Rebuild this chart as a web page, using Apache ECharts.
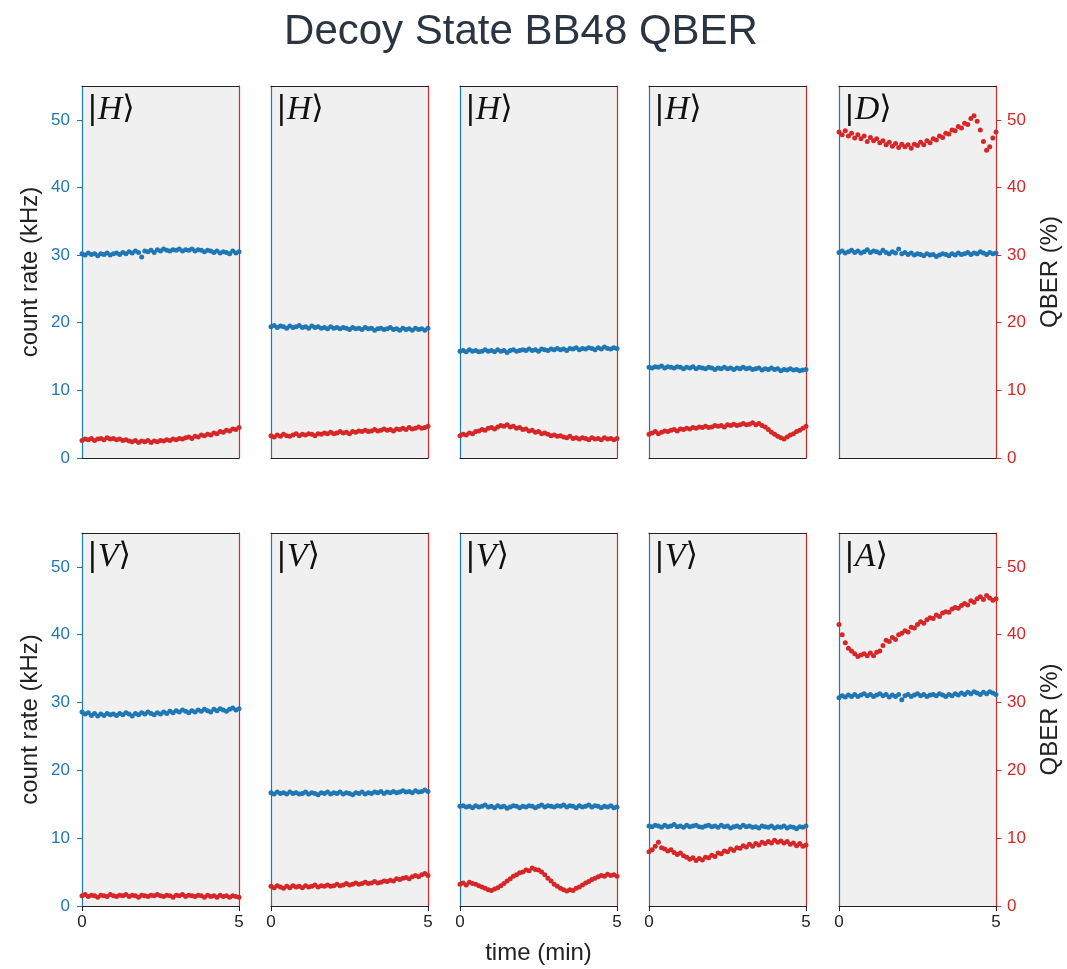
<!DOCTYPE html>
<html>
<head>
<meta charset="utf-8">
<script src="https://cdn.jsdelivr.net/npm/echarts@6/dist/echarts.min.js"></script>
<style>
html, body { margin: 0; padding: 0; background: #fff; }
#chart { width: 1067px; height: 969px; }
</style>
</head>
<body>
<div id="chart"></div>
<script>
// time axis (min), shared by every panel
const time = [0.0,0.1,0.2,0.3,0.4,0.5,0.6,0.7,0.8,0.9,
  1.0,1.1,1.2,1.3,1.4,1.5,1.6,1.7,1.8,1.9,
  2.0,2.1,2.2,2.3,2.4,2.5,2.6,2.7,2.8,2.9,
  3.0,3.1,3.2,3.3,3.4,3.5,3.6,3.7,3.8,3.9,
  4.0,4.1,4.2,4.3,4.4,4.5,4.6,4.7,4.8,4.9,5.0];

// count rate (kHz), top row
const rateH1 = [30.2,30.0,30.3,30.1,30.2,29.9,30.2,30.1,30.3,30.0,
  30.2,30.3,30.1,30.4,30.2,30.5,30.3,30.6,30.4,29.7,
  30.6,30.5,30.7,30.4,30.8,30.6,30.9,30.7,30.6,30.8,
  30.7,30.9,30.6,30.8,30.7,30.9,30.6,30.8,30.7,30.5,
  30.7,30.6,30.4,30.6,30.3,30.5,30.4,30.2,30.6,30.3,30.5];
const rateH2 = [19.4,19.6,19.3,19.5,19.4,19.2,19.5,19.3,19.4,19.6,
  19.3,19.4,19.2,19.5,19.3,19.4,19.2,19.3,19.1,19.4,
  19.2,19.3,19.1,19.3,19.2,19.0,19.3,19.1,19.2,19.0,
  19.3,19.1,19.2,18.9,19.1,19.2,19.0,19.1,19.3,19.0,
  19.1,18.9,19.2,19.0,19.1,18.9,19.2,19.0,19.1,18.9,19.2];
const rateH3 = [15.8,15.9,15.7,16.0,15.8,15.9,15.7,15.8,16.0,15.8,
  15.9,15.7,16.0,15.8,15.9,15.6,15.9,16.0,15.8,15.9,
  16.0,15.9,16.1,15.9,16.0,15.8,16.1,16.0,15.9,16.1,
  16.0,16.2,16.0,16.1,15.9,16.2,16.1,16.3,16.0,16.2,
  16.1,16.3,16.2,16.0,16.3,16.1,16.4,16.2,16.1,16.3,16.2];
const rateH4 = [13.4,13.3,13.5,13.4,13.6,13.3,13.5,13.4,13.3,13.5,
  13.4,13.2,13.4,13.3,13.5,13.2,13.4,13.3,13.2,13.4,
  13.3,13.1,13.3,13.2,13.4,13.2,13.3,13.1,13.3,13.2,
  13.4,13.2,13.3,13.1,13.2,13.3,13.0,13.2,13.1,13.3,
  13.1,13.2,12.9,13.1,13.0,13.2,13.0,13.1,12.9,13.0,13.1];
const rateD = [30.4,30.6,30.3,30.5,30.7,30.4,30.6,30.3,30.5,30.8,
  30.4,30.6,30.5,30.3,30.7,30.4,30.2,30.5,30.3,30.9,
  30.2,30.4,30.1,30.3,30.0,30.2,30.1,29.9,30.2,30.0,
  30.1,29.8,30.0,30.2,30.1,29.9,30.2,30.0,30.3,30.1,
  30.2,30.4,30.1,30.3,30.2,30.5,30.3,30.1,30.4,30.2,30.3];

// QBER (%), top row
const qberH1 = [2.6,2.8,2.7,2.9,2.6,2.8,2.9,2.7,3.0,2.8,
  2.9,2.7,2.8,2.6,2.7,2.5,2.4,2.6,2.3,2.5,
  2.4,2.6,2.3,2.5,2.4,2.6,2.5,2.7,2.6,2.8,
  2.7,2.9,2.8,3.0,3.1,2.9,3.2,3.1,3.4,3.3,
  3.5,3.4,3.7,3.6,3.9,3.8,4.1,4.0,4.3,4.2,4.5];
const qberH2 = [3.3,3.1,3.4,3.2,3.5,3.3,3.2,3.4,3.6,3.3,
  3.5,3.4,3.6,3.5,3.3,3.6,3.5,3.7,3.6,3.8,
  3.6,3.7,3.9,3.7,3.8,3.6,3.9,3.8,4.0,3.9,
  4.1,3.9,4.0,4.2,4.0,4.1,4.3,4.1,4.2,4.0,
  4.3,4.2,4.4,4.2,4.5,4.3,4.4,4.6,4.4,4.5,4.7];
const qberH3 = [3.3,3.5,3.4,3.7,3.6,3.9,4.0,4.2,4.1,4.4,
  4.5,4.3,4.6,4.8,4.7,4.9,4.6,4.7,4.4,4.5,
  4.2,4.3,4.0,4.1,3.8,3.9,3.6,3.7,3.5,3.3,
  3.4,3.2,3.3,3.1,3.0,3.2,2.9,3.0,2.8,3.0,
  2.9,2.7,3.0,2.8,2.9,2.7,3.0,2.8,2.9,2.7,2.9];
const qberH4 = [3.5,3.7,3.9,3.6,3.8,4.0,3.9,4.1,4.2,4.0,
  4.3,4.2,4.4,4.3,4.5,4.4,4.6,4.5,4.7,4.5,
  4.6,4.8,4.7,4.8,4.6,4.9,4.8,5.0,4.8,4.9,
  5.1,4.9,5.0,5.2,4.9,5.1,4.8,4.6,4.2,3.8,
  3.5,3.2,3.0,2.8,3.1,3.4,3.6,3.9,4.1,4.4,4.7];
const qberD = [48.2,47.8,48.4,47.6,48.0,47.3,47.8,47.2,47.6,46.8,
  47.4,46.9,47.2,46.6,46.9,46.3,46.7,46.1,46.5,45.9,
  46.4,46.0,46.3,45.8,46.4,46.2,46.7,46.3,46.9,46.6,
  47.2,47.0,47.6,47.4,48.0,47.9,48.5,48.4,49.0,48.8,
  49.5,49.3,50.2,50.6,49.8,48.5,46.8,45.5,46.0,47.3,48.2];

// count rate (kHz), bottom row
const rateV1 = [28.6,28.3,28.5,28.1,28.4,28.0,28.3,28.1,28.4,28.2,
  28.3,28.1,28.4,28.2,28.5,28.3,28.0,28.4,28.2,28.5,
  28.3,28.6,28.4,28.2,28.5,28.3,28.6,28.4,28.7,28.5,
  28.8,28.6,28.9,28.7,28.5,28.8,28.6,28.9,28.7,29.0,
  28.8,28.6,29.0,28.8,29.1,28.9,28.7,29.0,29.2,28.9,29.1];
const rateV2 = [16.7,16.5,16.8,16.6,16.7,16.5,16.8,16.6,16.7,16.5,
  16.6,16.8,16.5,16.7,16.6,16.4,16.7,16.6,16.8,16.5,
  16.7,16.6,16.8,16.5,16.7,16.6,16.4,16.7,16.6,16.8,
  16.5,16.7,16.6,16.8,16.7,16.9,16.6,16.8,16.7,16.9,
  16.7,16.8,17.0,16.8,16.9,16.7,17.0,16.8,16.9,17.1,16.9];
const rateV3 = [14.7,14.8,14.6,14.7,14.5,14.8,14.6,14.7,14.9,14.6,
  14.7,14.5,14.8,14.6,14.7,14.4,14.6,14.8,14.7,14.5,
  14.7,14.6,14.8,14.7,14.5,14.7,14.9,14.6,14.8,14.7,
  14.6,14.8,14.7,14.9,14.6,14.8,14.7,14.5,14.8,14.6,
  14.7,14.9,14.6,14.8,14.7,14.5,14.7,14.6,14.8,14.5,14.6];
const rateV4 = [11.8,11.7,11.9,11.8,11.6,11.9,11.7,11.8,12.0,11.7,
  11.8,11.6,11.9,11.7,11.8,11.9,11.7,11.6,11.8,11.9,
  11.7,11.8,11.6,11.9,11.7,11.8,11.5,11.7,11.8,11.6,
  11.9,11.7,11.8,11.6,11.7,11.5,11.8,11.7,11.6,11.8,
  11.5,11.7,11.6,11.8,11.5,11.7,11.6,11.4,11.7,11.6,11.8];
const rateA = [30.7,31.0,30.8,31.1,30.9,31.2,30.9,31.1,31.3,31.0,
  31.2,30.9,31.1,31.3,31.0,31.2,30.8,31.1,30.9,31.2,
  30.4,31.0,31.2,30.9,31.1,31.3,31.0,31.2,30.9,31.1,
  31.2,31.0,31.3,31.1,30.9,31.2,31.0,31.3,31.1,31.4,
  31.2,31.5,31.3,31.6,31.4,31.2,31.5,31.3,31.6,31.4,31.2];

// QBER (%), bottom row
const qberV1 = [1.5,1.7,1.4,1.6,1.5,1.3,1.6,1.5,1.4,1.7,
  1.5,1.4,1.6,1.5,1.7,1.4,1.6,1.5,1.3,1.6,
  1.5,1.4,1.6,1.5,1.7,1.5,1.4,1.6,1.5,1.3,
  1.6,1.5,1.7,1.4,1.6,1.5,1.4,1.6,1.5,1.3,
  1.6,1.4,1.5,1.3,1.6,1.4,1.5,1.3,1.5,1.4,1.3];
const qberV2 = [2.9,2.7,3.0,2.8,2.6,2.9,2.7,3.0,2.8,2.9,
  2.7,3.0,2.8,2.9,3.1,2.8,3.0,2.9,3.1,2.9,
  3.0,3.2,3.0,3.1,3.3,3.1,3.2,3.4,3.2,3.3,
  3.5,3.3,3.4,3.6,3.4,3.5,3.7,3.6,3.8,3.7,
  4.0,3.9,4.1,4.2,4.0,4.3,4.5,4.3,4.6,4.8,4.5];
const qberV3 = [3.2,3.4,3.1,3.5,3.3,3.2,3.0,2.8,2.6,2.4,
  2.3,2.5,2.7,3.0,3.3,3.7,4.0,4.4,4.6,4.9,
  5.0,5.3,5.2,5.6,5.4,5.3,5.0,4.6,4.1,3.7,
  3.2,2.9,2.6,2.4,2.2,2.4,2.3,2.6,2.8,3.1,
  3.4,3.6,3.9,4.1,4.3,4.5,4.4,4.7,4.5,4.6,4.4];
const qberV4 = [8.0,8.3,8.8,9.4,8.6,8.4,8.1,8.3,7.9,7.6,
  7.8,7.4,7.2,6.9,7.1,6.7,7.0,6.8,7.2,7.1,
  7.5,7.3,7.8,7.7,8.1,8.0,8.4,8.2,8.6,8.5,
  8.9,8.7,9.1,8.8,9.2,9.0,9.4,9.2,9.5,9.3,
  9.7,9.4,9.6,9.3,9.5,9.1,9.3,8.9,9.2,8.8,9.0];
const qberA = [41.5,40.0,38.8,38.0,37.6,37.2,36.8,37.0,37.2,36.9,
  37.3,36.9,37.4,37.6,38.4,39.2,39.0,39.6,39.3,40.0,
  40.2,40.6,40.4,41.1,41.0,41.5,41.9,41.7,42.2,42.5,
  42.4,42.9,42.7,43.2,43.4,43.3,43.8,44.0,43.9,44.3,
  44.6,44.4,45.0,44.8,45.3,45.6,45.2,45.8,45.4,45.1,45.3];

const yTicks = [0, 10, 20, 30, 40, 50];
const xTicks = [0, 5];

const panels = [
  { state: 'H', rate: rateH1, qber: qberH1 },
  { state: 'H', rate: rateH2, qber: qberH2 },
  { state: 'H', rate: rateH3, qber: qberH3 },
  { state: 'H', rate: rateH4, qber: qberH4 },
  { state: 'D', rate: rateD, qber: qberD },
  { state: 'V', rate: rateV1, qber: qberV1 },
  { state: 'V', rate: rateV2, qber: qberV2 },
  { state: 'V', rate: rateV3, qber: qberV3 },
  { state: 'V', rate: rateV4, qber: qberV4 },
  { state: 'A', rate: rateA, qber: qberA },
];

const BLUE = '#1f77b4';
const RED = '#d62728';
const INK = '#222';
const FONT = 'Liberation Sans, Arial, sans-serif';

const colLeft = [82, 271, 460, 649, 839];
const rowTop = [86, 533];
const rowH = [372, 373];
const panelW = 157;

const grid = [], xAxis = [], yAxis = [], series = [], graphic = [];

panels.forEach((p, i) => {
  const row = Math.floor(i / 5), col = i % 5;
  const isBottom = row === 1;
  grid.push({
    left: colLeft[col], top: rowTop[row], width: panelW, height: rowH[row],
    show: true, backgroundColor: '#f0f0f0', borderWidth: 0
  });

  // bottom axis (ticks only on lower row)
  xAxis.push({
    gridIndex: i, type: 'value', min: 0, max: 5, interval: 5, position: 'bottom',
    axisLine: { show: true, onZero: false, lineStyle: { color: INK, width: 1.2 } },
    axisTick: { show: isBottom, length: 5, customValues: xTicks, lineStyle: { color: INK } },
    axisLabel: { show: isBottom, customValues: xTicks, fontSize: 17, color: INK, margin: 8, fontFamily: FONT },
    splitLine: { show: false },
    name: (isBottom && col === 2) ? 'time (min)' : '',
    nameLocation: 'middle', nameGap: 35,
    nameTextStyle: { fontSize: 24, color: INK, fontFamily: FONT }
  });
  // top spine
  xAxis.push({
    gridIndex: i, type: 'value', min: 0, max: 5, position: 'top',
    axisLine: { show: true, onZero: false, lineStyle: { color: INK, width: 1.2 } },
    axisTick: { show: false }, axisLabel: { show: false }, splitLine: { show: false }
  });

  // left: count rate
  yAxis.push({
    gridIndex: i, type: 'value', min: 0, max: 55, interval: 10, position: 'left',
    axisLine: { show: true, onZero: false, lineStyle: { color: BLUE, width: 1.2 } },
    axisTick: { show: col === 0, length: 5, customValues: yTicks, lineStyle: { color: BLUE } },
    axisLabel: { show: col === 0, customValues: yTicks, fontSize: 17, color: BLUE, margin: 12, fontFamily: FONT },
    splitLine: { show: false },
    name: col === 0 ? 'count rate (kHz)' : '',
    nameLocation: 'middle', nameGap: 40,
    nameTextStyle: { fontSize: 24, color: INK, fontFamily: FONT }
  });
  // right: QBER
  yAxis.push({
    gridIndex: i, type: 'value', min: 0, max: 55, interval: 10, position: 'right',
    axisLine: { show: true, onZero: false, lineStyle: { color: RED, width: 1.2 } },
    axisTick: { show: col === 4, length: 5, customValues: yTicks, lineStyle: { color: RED } },
    axisLabel: { show: col === 4, customValues: yTicks, fontSize: 17, color: RED, margin: 11, fontFamily: FONT },
    splitLine: { show: false },
    name: col === 4 ? 'QBER (%)' : '',
    nameLocation: 'middle', nameGap: 42,
    nameTextStyle: { fontSize: 24, color: INK, fontFamily: FONT }
  });

  series.push({
    type: 'scatter', xAxisIndex: 2 * i, yAxisIndex: 2 * i,
    data: time.map((t, k) => [t, p.rate[k]]),
    symbolSize: 5, itemStyle: { color: BLUE, opacity: 1 }, silent: true
  });
  series.push({
    type: 'scatter', xAxisIndex: 2 * i, yAxisIndex: 2 * i + 1,
    data: time.map((t, k) => [t, p.qber[k]]),
    symbolSize: 5, itemStyle: { color: RED, opacity: 1 }, silent: true
  });

  graphic.push({
    type: 'text', left: colLeft[col] + 5, top: rowTop[row] + 7, z: 100,
    style: {
      text: '{a|\u007c}{b|' + p.state + '}{a|\u27e9}',
      rich: {
        a: { fontFamily: 'DejaVu Serif', fontSize: 32, fill: '#111' },
        b: { fontFamily: 'Liberation Serif', fontStyle: 'italic', fontSize: 34, fill: '#111' }
      }
    }
  });
});

const chart = echarts.init(document.getElementById('chart'));
chart.setOption({
  animation: false,
  backgroundColor: '#fff',
  title: {
    text: 'Decoy State BB48 QBER',
    left: 516, top: 6, textAlign: 'center',
    textStyle: { fontSize: 42, fontWeight: 'normal', color: '#2a3541', fontFamily: FONT }
  },
  grid, xAxis, yAxis, series, graphic
});
</script>
</body>
</html>
